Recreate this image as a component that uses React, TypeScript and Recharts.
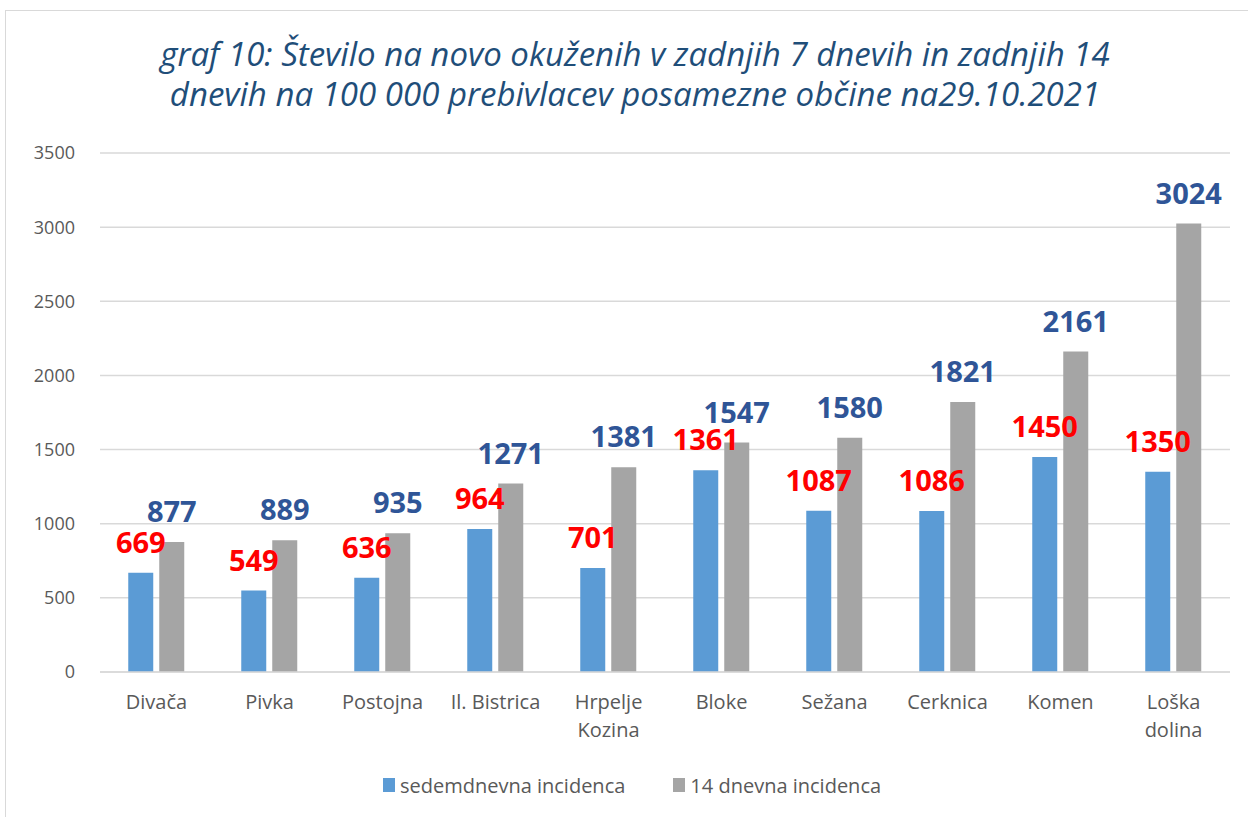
import {
  BarChart,
  Bar,
  XAxis,
  YAxis,
  CartesianGrid,
  Legend,
  LabelList,
} from "recharts";

// občine (\n = line break in the axis label)
const municipalities = [
  "Divača",
  "Pivka",
  "Postojna",
  "Il. Bistrica",
  "Hrpelje\nKozina",
  "Bloke",
  "Sežana",
  "Cerknica",
  "Komen",
  "Loška\ndolina",
];

const sevenDay = [669, 549, 636, 964, 701, 1361, 1087, 1086, 1450, 1350];
const fourteenDay = [877, 889, 935, 1271, 1381, 1547, 1580, 1821, 2161, 3024];

const yTicks = [0, 500, 1000, 1500, 2000, 2500, 3000, 3500];

const titleLines = [
  "graf 10: Število na novo okuženih v zadnjih 7 dnevih in zadnjih 14",
  "dnevih na 100 000 prebivlacev posamezne občine na29.10.2021",
];

const seriesInfo = [
  { key: "seven", name: "sedemdnevna incidenca", color: "#5B9BD5" },
  { key: "fourteen", name: "14 dnevna incidenca", color: "#A5A5A5" },
];

const FONT = "'Open Sans', sans-serif";

const data = municipalities.map((name, i) => ({
  name,
  seven: sevenDay[i],
  fourteen: fourteenDay[i],
}));

// multi-line category tick
function CategoryTick(props: any) {
  const { x, y, payload } = props;
  const lines = String(payload.value).split("\n");
  return (
    <text
      x={x}
      y={y}
      textAnchor="middle"
      fill="#595959"
      fontSize={20}
      fontFamily={FONT}
    >
      {lines.map((line, i) => (
        <tspan key={i} x={x} dy={i === 0 ? 29 : 28}>
          {line}
        </tspan>
      ))}
    </text>
  );
}

// legend in the original series order
function LegendContent() {
  return (
    <div
      style={{
        display: "flex",
        justifyContent: "center",
        gap: 48,
        height: 24,
        alignItems: "center",
        paddingLeft: 34,
      }}
    >
      {seriesInfo.map((s) => (
        <div key={s.key} style={{ display: "flex", alignItems: "center" }}>
          <span
            style={{
              display: "inline-block",
              width: 12,
              height: 14,
              background: s.color,
              marginRight: 5,
            }}
          />
          <span style={{ color: "#595959", fontSize: 20, fontFamily: FONT }}>
            {s.name}
          </span>
        </div>
      ))}
    </div>
  );
}

export default function App() {
  return (
    <div
      style={{
        position: "absolute",
        left: 0,
        top: 0,
        width: 1248,
        height: 817,
        overflow: "hidden",
        background: "#fff",
        fontFamily: FONT,
      }}
    >
      {/* chart frame */}
      <div
        style={{
          position: "absolute",
          left: 5,
          top: 10,
          width: 1260,
          height: 830,
          border: "1px solid #d9d9d9",
        }}
      />

      {/* TITLE */}
      <div
        style={{
          position: "absolute",
          left: 11,
          top: 34,
          width: 1248,
          textAlign: "center",
          fontStyle: "italic",
          fontSize: 33,
          lineHeight: "40px",
          color: "#1F4E79",
        }}
      >
        {titleLines.map((t) => (
          <div key={t}>{t}</div>
        ))}
      </div>

      <div style={{ position: "absolute", left: 0, top: 0 }}>
        <BarChart
          width={1248}
          height={817}
          data={data}
          margin={{ top: 153, right: 18, left: 0, bottom: 20 }}
          barGap={6}
          barCategoryGap="25%"
        >
          <CartesianGrid vertical={false} stroke="#d9d9d9" strokeWidth={1.5} />
          <XAxis
            dataKey="name"
            height={101}
            tickLine={false}
            axisLine={{ stroke: "#d9d9d9", strokeWidth: 1.5 }}
            tick={<CategoryTick />}
            interval={0}
          />
          <YAxis
            width={100}
            domain={[0, 3500]}
            ticks={yTicks}
            tickLine={false}
            axisLine={false}
            tickMargin={19}
            tick={{ fill: "#595959", fontSize: 18, fontFamily: FONT }}
          />
          <Legend verticalAlign="bottom" content={<LegendContent />} />
          <Bar
            dataKey="seven"
            name={seriesInfo[0].name}
            fill={seriesInfo[0].color}
            isAnimationActive={false}
          >
            <LabelList
              dataKey="seven"
              position="top"
              offset={20}
              fill="#FF0000"
              fontSize={29}
              fontWeight="bold"
              fontFamily={FONT}
            />
          </Bar>
          <Bar
            dataKey="fourteen"
            name={seriesInfo[1].name}
            fill={seriesInfo[1].color}
            isAnimationActive={false}
          >
            <LabelList
              dataKey="fourteen"
              position="top"
              offset={20}
              fill="#2F5597"
              fontSize={29}
              fontWeight="bold"
              fontFamily={FONT}
            />
          </Bar>
        </BarChart>
      </div>
    </div>
  );
}
